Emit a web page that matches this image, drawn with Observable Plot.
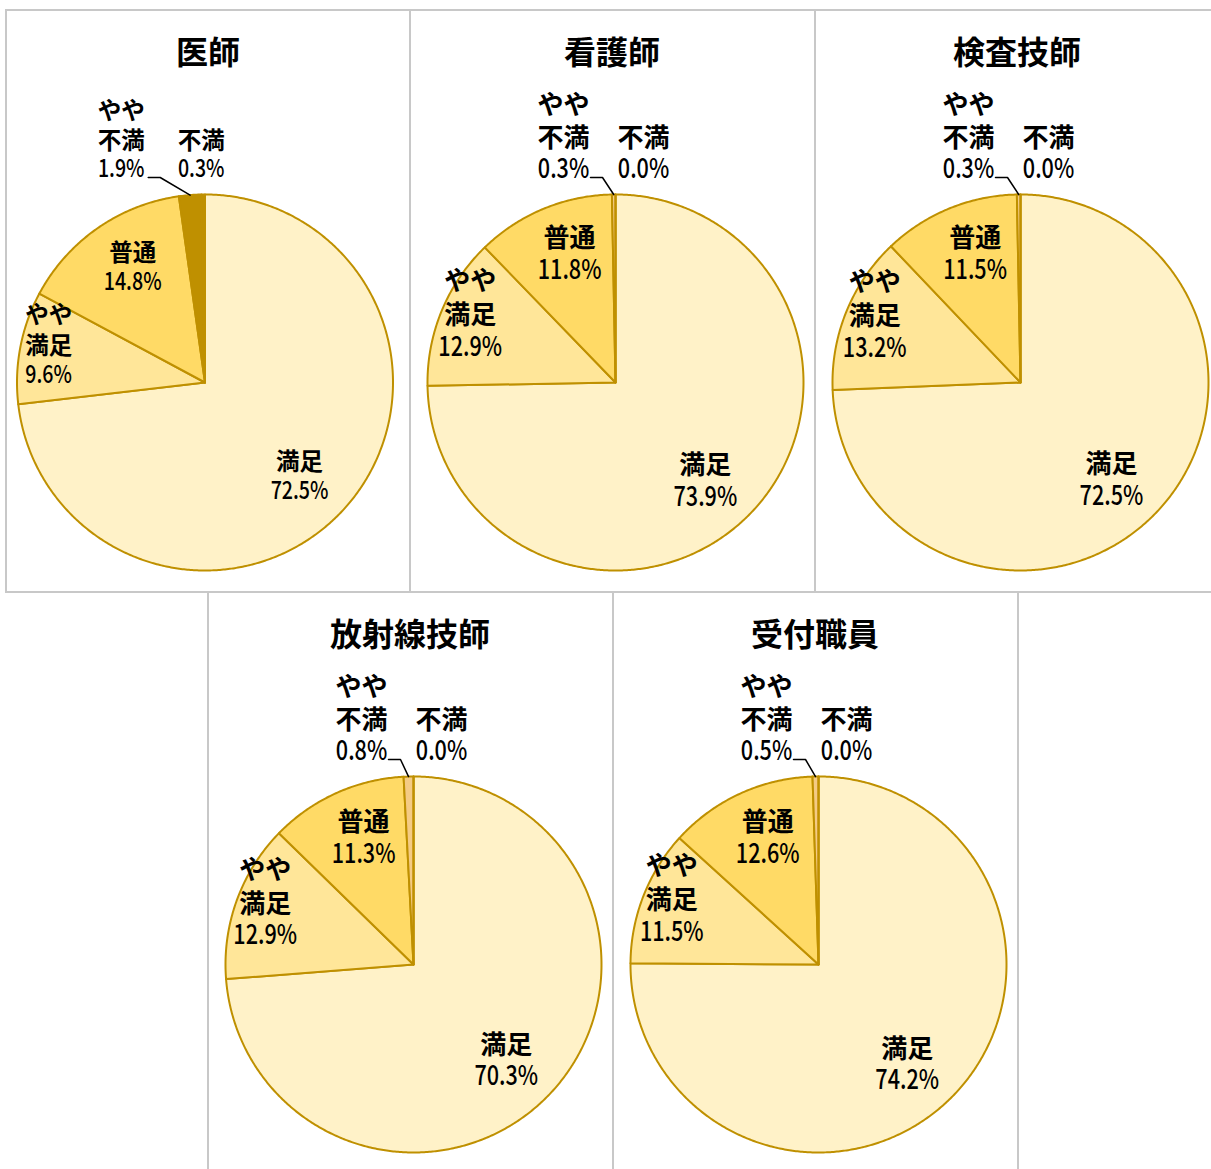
<!DOCTYPE html>
<html>
<head>
<meta charset="utf-8">
<script src="https://cdn.jsdelivr.net/npm/d3@7"></script>
<script src="https://cdn.jsdelivr.net/npm/@observablehq/plot@0.6"></script>
<style>
  body { margin: 0; background: #fff; width: 1211px; height: 1169px; overflow: hidden; position: relative;
         font-family: "Noto Sans CJK JP", sans-serif; }
  .cell { position: absolute; border: 2px solid #C8C8C8; box-sizing: border-box; }
  .title { position: absolute; left: 0; top: 0; width: 402px; height: 78px; line-height: 78px; text-align: center;
           font-weight: bold; font-size: 32px; color: #000; z-index: 2; }
  .cell svg { position: absolute; left: 0; top: 0; }
</style>
</head>
<body>
<script>
// ---- data ----
const categories = ["満足", "やや満足", "普通", "やや不満", "不満"];
const labelNames = ["満足", "やや\n満足", "普通", "やや\n不満", "不満"];
const titles = ["医師", "看護師", "検査技師", "放射線技師", "受付職員"];
const doctor    = [72.5,  9.6, 14.8, 1.9, 0.3];
const nurse     = [73.9, 12.9, 11.8, 0.3, 0.0];
const labTech   = [72.5, 13.2, 11.5, 0.3, 0.0];
const radTech   = [70.3, 12.9, 11.3, 0.8, 0.0];
const reception = [74.2, 11.5, 12.6, 0.5, 0.0];

// ---- styles / layout ----
const sliceColors  = ["#FFF2C8", "#FFE699", "#FFDA66", "#F4CB84", "#BF9000"];
const doctorColors = ["#FFF2C8", "#FFE699", "#FFDA66", "#BF9000", "#BF9000"];
const edge = "#BF9000";
const R = 188;
const innerRad = [133, 161, 137];
const FONT = '"Noto Sans CJK JP", "Noto Sans", sans-serif';

const panels = [
  {title: titles[0], values: doctor,    left: 5,   top: 9,   w: 406, h: 584, cx: 197.5, fs: 23.5, pfs: 24.5, lh: 31, colors: doctorColors},
  {title: titles[1], values: nurse,     left: 409, top: 9,   w: 407, h: 584, cx: 204,   fs: 26,   pfs: 27, lh: 34, colors: sliceColors},
  {title: titles[2], values: labTech,   left: 814, top: 9,   w: 420, h: 584, cx: 204,   fs: 26,   pfs: 27, lh: 34, colors: sliceColors},
  {title: titles[3], values: radTech,   left: 207, top: 591, w: 407, h: 640, cx: 204,   fs: 26,   pfs: 27, lh: 34, colors: sliceColors},
  {title: titles[4], values: reception, left: 612, top: 591, w: 407, h: 640, cx: 204,   fs: 26,   pfs: 27, lh: 34, colors: sliceColors}
];
const W = 402, H = 580, CY = 371;
const fmt = v => d3.format(".1f")(v) + "%";

function renderPanel(p) {
  const cell = document.createElement("div");
  cell.className = "cell";
  Object.assign(cell.style, {left: p.left + "px", top: p.top + "px", width: p.w + "px", height: p.h + "px"});
  const t = document.createElement("div");
  t.className = "title";
  t.textContent = p.title;
  cell.appendChild(t);

  const arcs = d3.pie().sort(null).value(d => d)(p.values);
  const marks = [];
  arcs.forEach((a, i) => {
    const pts = [{x: 0, y: 0}];
    const n = Math.max(1, Math.ceil((a.endAngle - a.startAngle) / (Math.PI / 360)));
    for (let k = 0; k <= n; k++) {
      const ang = a.startAngle + (a.endAngle - a.startAngle) * k / n;
      pts.push({x: R * Math.sin(ang), y: -R * Math.cos(ang)});
    }
    pts.push({x: 0, y: 0});
    marks.push(Plot.line(pts, {x: "x", y: "y", fill: p.colors[i], stroke: edge, strokeWidth: 2, strokeLinejoin: "round"}));
  });

  const mid = a => (a.startAngle + a.endAngle) / 2;
  const labels = [];
  for (let i = 0; i < 3; i++) {
    const a = arcs[i];
    const ang = mid(a) + 3 * Math.PI / 180;
    const px = innerRad[i] * Math.sin(ang), py = -innerRad[i] * Math.cos(ang);
    const N = labelNames[i].split("\n").length, L = N + 1;
    const pctY = py + (L - 1) / 2 * p.lh;
    labels.push({name: labelNames[i], pct: fmt(p.values[i]), x: px, pctY, nameY: pctY - p.lh - (N - 1) * p.lh / 2, lhN: p.lh});
  }
  const a3 = arcs[3], a4 = arcs[4];
  const pctYo = -R - 25;
  const olh = p.lh - 1;
  const lx4 = R * Math.sin(mid(a4)) + (p.values[4] > 0 ? -2 : 28);
  const lx3 = lx4 - 80;
  labels.push({name: labelNames[3], pct: fmt(p.values[3]), x: lx3, pctY: pctYo, nameY: pctYo - olh - olh / 2});
  labels.push({name: labelNames[4], pct: fmt(p.values[4]), x: lx4, pctY: pctYo, nameY: pctYo - olh});

  const leader = [
    {x: lx3 + 27, y: pctYo + 8},
    {x: lx3 + 39, y: pctYo + 8},
    {x: R * Math.sin(mid(a3)), y: -R * Math.cos(mid(a3))}
  ];
  marks.push(Plot.line(leader, {x: "x", y: "y", stroke: "#000", strokeWidth: 1.5}));
  marks.push(Plot.text(labels.slice(0, 3), {x: "x", y: "nameY", text: "name", fontSize: p.fs, fontWeight: "bold",
                                lineHeight: p.lh / p.fs, fill: "#000"}));
  marks.push(Plot.text(labels.slice(3), {x: "x", y: "nameY", text: "name", fontSize: p.fs, fontWeight: "bold",
                                lineHeight: olh / p.fs, fill: "#000"}));
  marks.push(Plot.text(labels, {x: "x", y: "pctY", text: "pct", fontSize: p.pfs, fontWeight: 500, fill: "#000"}));

  const svg = Plot.plot({
    width: W, height: H, margin: 0,
    x: {domain: [-p.cx, W - p.cx], range: [0, W], axis: null},
    y: {domain: [-CY, H - CY], range: [0, H], axis: null},
    style: {fontFamily: FONT, background: "transparent", overflow: "visible"},
    marks
  });
  cell.appendChild(svg);
  document.body.appendChild(cell);
  // narrow the percentage labels (condensed digits as in the reference)
  svg.querySelectorAll("text").forEach(el => {
    if (el.querySelector("tspan") || !/%$/.test(el.textContent)) return;
    const w = el.getComputedTextLength();
    if (w > 0) {
      el.setAttribute("textLength", (w * 0.8).toFixed(1));
      el.setAttribute("lengthAdjust", "spacingAndGlyphs");
    }
  });
}
panels.forEach(renderPanel);
</script>
</body>
</html>
